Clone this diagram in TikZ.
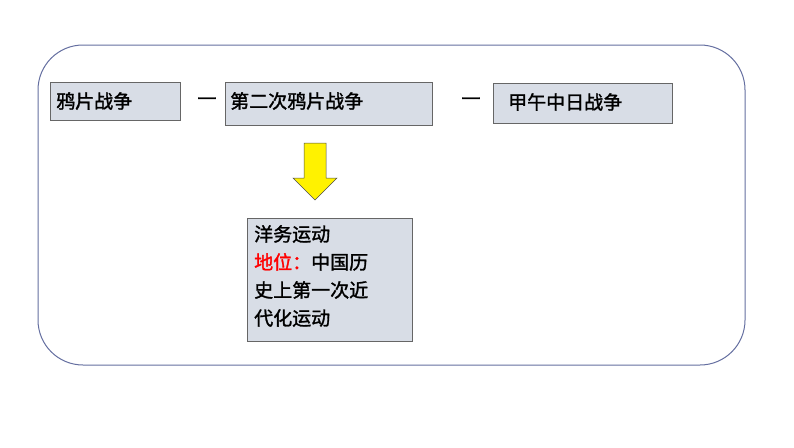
\documentclass[tikz,border=0pt]{standalone}
\usepackage{fontspec}
\newfontfamily\cjk[AutoFakeBold=1.5]{Noto Sans CJK SC}
\definecolor{boxfill}{RGB}{216,221,230}
\definecolor{frame}{RGB}{100,110,160}
\begin{document}
\begin{tikzpicture}[x=1pt,y=-1pt,
  box/.style={draw=gray!80!black,line width=0.6pt,fill=boxfill},
  txt/.style={font=\cjk\bfseries\fontsize{19}{28}\selectfont,inner sep=0pt},
  dashmark/.style={font=\cjk\bfseries\fontsize{22}{22}\selectfont}]
\useasboundingbox (0,0) rectangle (794,447);
\draw[draw=frame,line width=1pt,rounded corners=45pt] (38,45) rectangle (745,365);
\path[box] (50,82) rectangle (180,120);
\node[txt,anchor=west] (b1) at (56,101) {鸦片战争};
\path[box] (225,82) rectangle (432,125);
\node[txt,anchor=west] (b2) at (230,101) {第二次鸦片战争};
\path[box] (493,83) rectangle (672,123);
\node[txt,anchor=west] (b3) at (508,102) {甲午中日战争};
\node[dashmark] (d1) at (207,101) {—};
\node[dashmark] (d2) at (471,101) {—};
\draw[fill=yellow,draw=black!70,line width=0.5pt] (304,143) -- (326,143) -- (326,178) -- (337,178) -- (315,200) -- (293,178) -- (304,178) -- cycle;
\path[box] (247,218) rectangle (412,341);
\node[txt,anchor=north west,align=left] (b4) at (254,225) {洋务运动\\\textcolor{red}{地位：}中国历\\史上第一次近\\代化运动};
\end{tikzpicture}
\end{document}
